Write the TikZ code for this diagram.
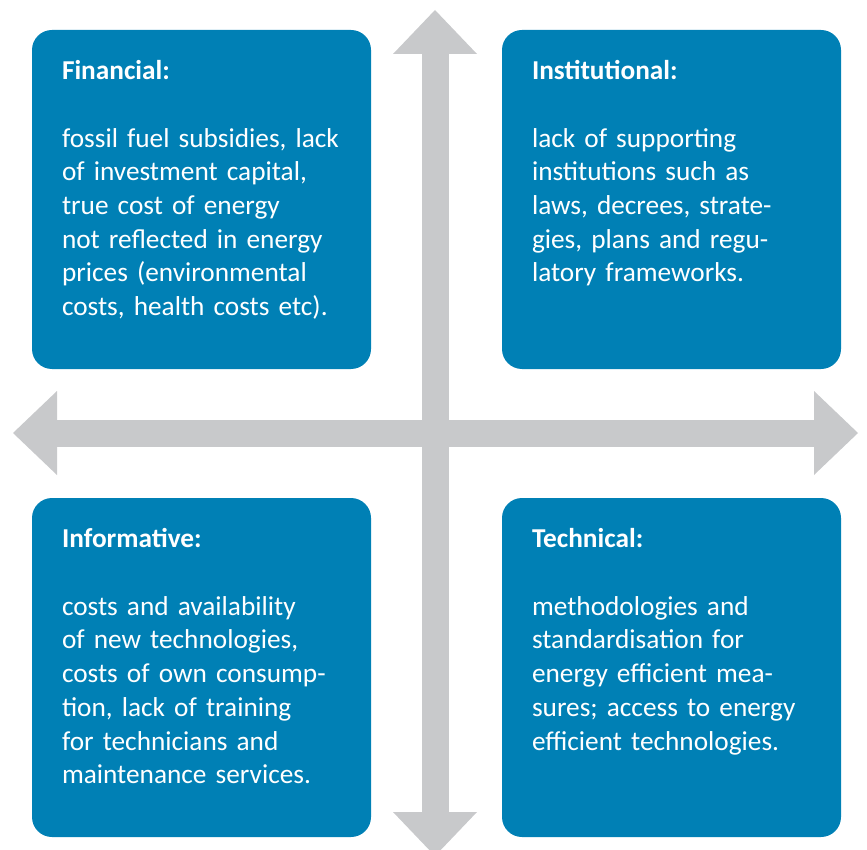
\documentclass[tikz,border=0pt]{standalone}
\usepackage{fontspec}
\setmainfont{Carlito}
\usetikzlibrary{arrows.meta}

\definecolor{barrierblue}{RGB}{0,128,181}
\definecolor{axisgray}{RGB}{200,201,203}

\tikzset{
  barrier/.style={fill=barrierblue, rounded corners=20pt, minimum width=339pt,
    minimum height=339pt, inner sep=0pt},
  barriertext/.style={text=white, text width=300pt, align=left, inner sep=0pt,
    anchor=base west, font=\fontsize{27.3pt}{33.7pt}\selectfont},
  axis/.style={draw=axisgray, line width=27pt,
    {Triangle[length=44pt,width=84pt,line width=0pt]}-{Triangle[length=44pt,width=84pt,line width=0pt]}}
}

\begin{document}
\begin{tikzpicture}[x=1pt,y=-1pt]
  \useasboundingbox (0,0) rectangle (867,850);

  % the crossed arrows behind the boxes
  \coordinate (top) at (435,10);
  \coordinate (bottom) at (435,856);
  \coordinate (left) at (13,433);
  \coordinate (right) at (858,433);
  \draw[axis] (top) -- (bottom);
  \draw[axis] (left) -- (right);

  \foreach \name/\x/\y in {fin/201.5/199.5, inst/671.5/199.5,
                           info/201.5/667.5, tech/671.5/667.5}
    \node[barrier] (\name) at (\x,\y) {};

  \node[barriertext] (fintext) at ([shift={(30,50)}]fin.north west)
    {\textbf{Financial:}\\[33.7pt]
     fossil fuel subsidies, lack\\
     of investment capital,\\
     true cost of energy\\
     not reflected in energy\\
     prices (environmental\\
     costs, health costs etc).};
  \node[barriertext] (insttext) at ([shift={(30,50)}]inst.north west)
    {\textbf{Institutional:}\\[33.7pt]
     lack of supporting\\
     institutions such as\\
     laws, decrees, strate-\\
     gies, plans and regu-\\
     latory frameworks.};
  \node[barriertext] (infotext) at ([shift={(30,50)}]info.north west)
    {\textbf{Informative:}\\[33.7pt]
     costs and availability\\
     of new technologies,\\
     costs of own consump-\\
     tion, lack of training\\
     for technicians and\\
     maintenance services.};
  \node[barriertext] (techtext) at ([shift={(30,50)}]tech.north west)
    {\textbf{Technical:}\\[33.7pt]
     methodologies and\\
     standardisation for\\
     energy efficient mea-\\
     sures; access to energy\\
     efficient technologies.};
\end{tikzpicture}
\end{document}
